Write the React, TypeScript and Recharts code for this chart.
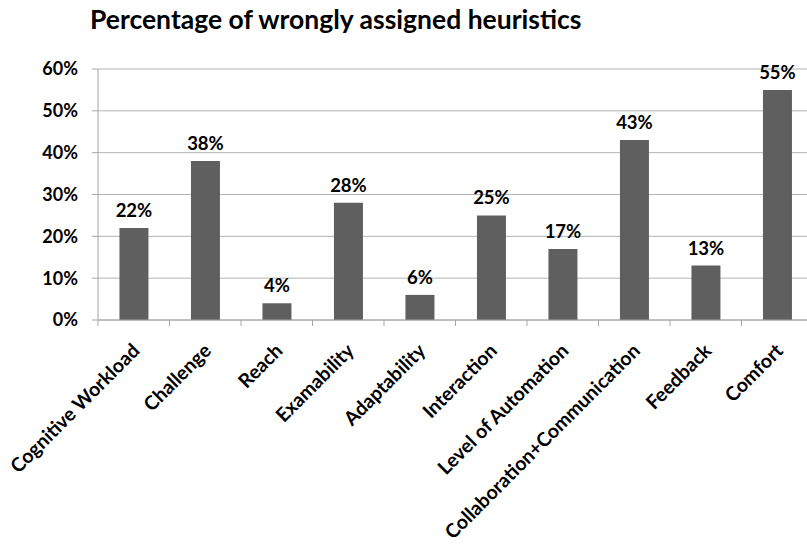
import { BarChart, Bar, XAxis, YAxis, CartesianGrid, LabelList } from 'recharts'

const categories = [
  'Cognitive Workload', 'Challenge', 'Reach', 'Examability', 'Adaptability',
  'Interaction', 'Level of Automation', 'Collaboration+Communication', 'Feedback', 'Comfort',
]
const wrongPct = [22, 38, 4, 28, 6, 25, 17, 43, 13, 55]
const yTicks = [0, 10, 20, 30, 40, 50, 60]

const data = categories.map((name, i) => ({ name, value: wrongPct[i] }))

const FONT = 'Lato, "Open Sans", sans-serif'
const CHART_W = 815
const PLOT_LEFT = 98
const PLOT_RIGHT = 2
const BAND = (CHART_W - PLOT_LEFT - PLOT_RIGHT) / categories.length

// category label: rotated -45deg, ends near the band centre; tick marks sit on band edges
function CatTick(props: any) {
  const { x, y, payload, index } = props
  const axisY = y - 8
  const tx = x + 7
  const ty = axisY + 32
  return (
    <g>
      <line x1={x - BAND / 2} y1={axisY} x2={x - BAND / 2} y2={axisY + 6} stroke="#a6a6a6" />
      {index === categories.length - 1 && (
        <line x1={x + BAND / 2} y1={axisY} x2={x + BAND / 2} y2={axisY + 6} stroke="#a6a6a6" />
      )}
      <text
        x={tx}
        y={ty}
        transform={`rotate(-45, ${tx}, ${ty})`}
        textAnchor="end"
        fontFamily={FONT}
        fontWeight={700}
        fontSize={19.5}
        fill="#000"
      >
        {payload.value}
      </text>
    </g>
  )
}

export default function App() {
  return (
    <div style={{ position: 'absolute', left: 0, top: 0, width: 807, height: 547, overflow: 'hidden', background: '#fff' }}>
      <div
        style={{
          position: 'absolute', left: 90, top: 3, fontFamily: FONT, fontWeight: 700,
          fontSize: 26.5, color: '#000', whiteSpace: 'nowrap',
        }}
      >
        Percentage of wrongly assigned heuristics
      </div>
      <BarChart
        width={CHART_W}
        height={547}
        data={data}
        margin={{ top: 69, right: PLOT_RIGHT, bottom: 0, left: 0 }}
        barCategoryGap="30%"
      >
        <CartesianGrid vertical={false} stroke="#b3b3b3" />
        <XAxis
          dataKey="name"
          height={227}
          interval={0}
          tickLine={false}
          axisLine={{ stroke: '#a6a6a6' }}
          tick={<CatTick />}
        />
        <YAxis
          width={PLOT_LEFT}
          domain={[0, 60]}
          ticks={yTicks}
          tickFormatter={(v: number) => v + '%'}
          axisLine={{ stroke: '#a6a6a6' }}
          tickLine={{ stroke: '#a6a6a6' }}
          tickSize={6}
          tickMargin={14}
          tick={{ fill: '#000', fontFamily: FONT, fontWeight: 700, fontSize: 18 }}
        />
        <Bar dataKey="value" fill="#5f5f5f" isAnimationActive={false}>
          <LabelList
            dataKey="value"
            position="top"
            offset={11}
            formatter={(v: any) => v + '%'}
            style={{ fill: '#000', fontFamily: FONT, fontWeight: 700, fontSize: 18.5 }}
          />
        </Bar>
      </BarChart>
    </div>
  )
}
